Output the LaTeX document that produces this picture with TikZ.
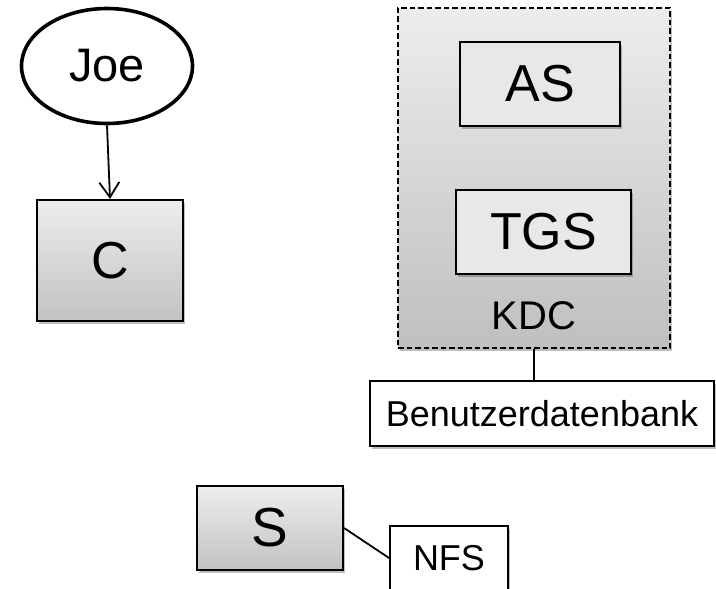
\documentclass[tikz,border=0pt]{standalone}
\usepackage{fontspec}
\setmainfont{Liberation Sans}
\usetikzlibrary{shapes.geometric,arrows.meta,shadows}
\newcommand{\fs}[1]{\fontsize{#1}{#1}\selectfont}
\begin{document}
\begin{tikzpicture}[x=1pt,y=-1pt,
  softshadow/.style={drop shadow={shadow xshift=1.5pt,shadow yshift=-2.5pt,opacity=0.25,fill=black}},
  graybox/.style={rectangle,draw=black,line width=2.2pt,top color=gray!14,bottom color=gray!48,softshadow,inner sep=0pt},
  lightbox/.style={rectangle,draw=black,line width=2.2pt,fill=gray!18,softshadow,inner sep=0pt},
  whitebox/.style={rectangle,draw=black,line width=1.8pt,fill=white,softshadow,inner sep=0pt},
  link/.style={draw=black,line width=1.8pt}]
\useasboundingbox (0,0) rectangle (716,589);

% user and client
\node[ellipse,draw=black,line width=3.6pt,fill=white,minimum width=171,minimum height=115,inner sep=0pt,font=\fs{47}] (joe) at (107,66) {Joe};
\node[graybox,minimum width=146,minimum height=121,font=\fs{52}] (c) at (110,260.5) {C};
\draw[link,-{Straight Barb[length=15pt,width=20pt,line width=1.8pt]}] (joe.south) -- (c.north);

% key distribution center
\node[rectangle,draw=black,dash pattern=on 5.5pt off 3pt,line width=1.5pt,top color=gray!14,bottom color=gray!50,softshadow,minimum width=272,minimum height=340,inner sep=0pt] (kdc) at (534,178) {};
\node[lightbox,minimum width=160,minimum height=84,font=\fs{52}] (as) at (540,84) {AS};
\node[lightbox,minimum width=175,minimum height=84,font=\fs{52}] (tgs) at (543.5,232) {TGS};
\node[font=\fs{40}] (kdclabel) at (534,316) {KDC};

% user database
\node[whitebox,minimum width=344,minimum height=65,font=\fs{36}] (bdb) at (542,413.5) {Benutzerdatenbank};
\draw[link] (kdc.south) -- (kdc.south |- bdb.north);

% server and file system
\node[graybox,minimum width=146,minimum height=84,font=\fs{55}] (s) at (270,528) {S};
\node[whitebox,minimum width=118,minimum height=64,font=\fs{36}] (nfs) at (449,558) {NFS};
\draw[link] (s.east) -- (nfs.west);
\end{tikzpicture}
\end{document}
